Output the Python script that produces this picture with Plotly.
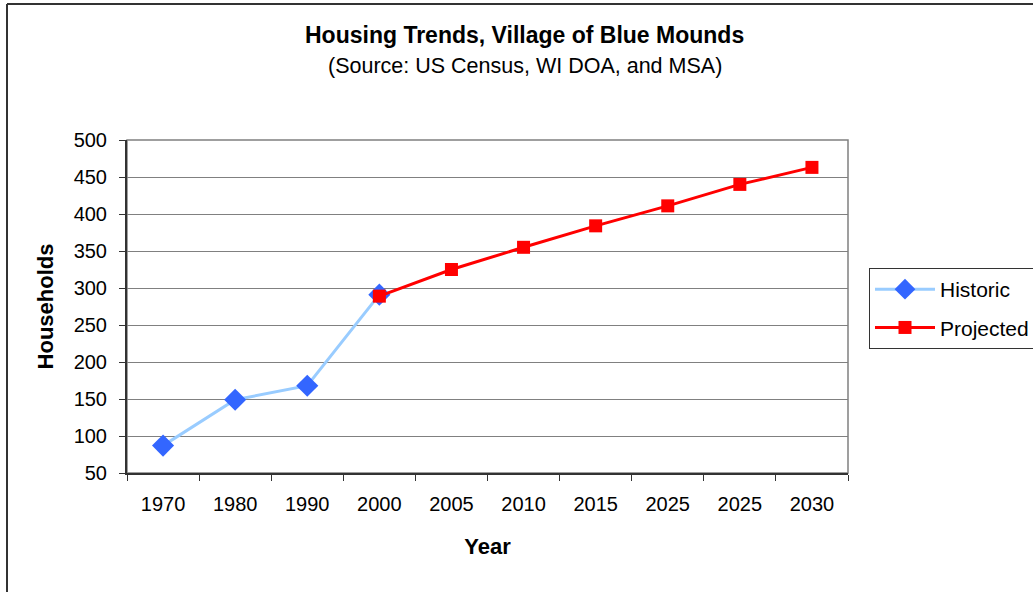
import plotly.graph_objects as go

year_labels = ["1970", "1980", "1990", "2000", "2005", "2010", "2015", "2025", "2025", "2030"]
historic_idx = [0, 1, 2, 3]
historic_vals = [87, 149, 168, 291]
projected_idx = [3, 4, 5, 6, 7, 8, 9]
projected_vals = [289, 325, 355, 384, 411, 440, 463]
y_ticks = [50, 100, 150, 200, 250, 300, 350, 400, 450, 500]

FONT = "Liberation Sans, Arial, sans-serif"

fig = go.Figure()
fig.add_trace(go.Scatter(
    x=historic_idx, y=historic_vals, name="Historic", mode="lines+markers",
    line=dict(color="#99CCFF", width=3),
    marker=dict(symbol="diamond", size=17, color="#3366FF"),
    legendgroup="h",
))
fig.add_trace(go.Scatter(
    x=projected_idx, y=projected_vals, name="Projected", mode="lines+markers",
    line=dict(color="#FF0000", width=3),
    marker=dict(symbol="square", size=13, color="#FF0000"),
    legendgroup="p",
))

L, R, T, B = 127, 848, 140, 473
W, H = 1033, 592
pw, ph = R - L, B - T

def px(x):
    return (x - L) / pw

def py(y):
    return (B - y) / ph

fig.update_layout(
    width=W, height=H,
    margin=dict(l=L, r=W - R, t=T, b=H - B, pad=0, autoexpand=False),
    paper_bgcolor="white", plot_bgcolor="white",
    font=dict(family=FONT, size=20, color="black"),
    showlegend=True,
    legend=dict(
        x=px(869), y=py(268), xanchor="left", yanchor="top",
        bordercolor="#333333", borderwidth=1, bgcolor="white",
        font=dict(size=21), tracegroupgap=8,
        itemwidth=60,
    ),
    xaxis=dict(
        range=[-0.5, 9.5], tickvals=list(range(len(year_labels))), ticktext=year_labels,
        showgrid=False, zeroline=False, ticks="", ticklen=0,
        ticklabelstandoff=12,
        showline=True, linecolor="#333333", linewidth=2, mirror=False,
        minor=dict(tick0=-0.5, dtick=1, ticks="outside", ticklen=6, tickcolor="#333333", tickwidth=1, showgrid=False),
        tickfont=dict(size=20), title=dict(text="<b>Year</b>", font=dict(size=22), standoff=25),
        fixedrange=True,
    ),
    yaxis=dict(
        range=[50, 500], tickvals=y_ticks, showgrid=True, gridcolor="#808080", gridwidth=1,
        zeroline=False, ticks="outside", ticklen=6, tickcolor="#333333",
        ticklabelstandoff=8,
        showline=True, linecolor="#333333", linewidth=2,
        tickfont=dict(size=20), title=dict(text="<b>Households</b>", font=dict(size=22), standoff=14),
        fixedrange=True,
    ),
    shapes=[
        dict(type="rect", xref="paper", yref="paper", x0=0, x1=1, y0=0, y1=1,
             line=dict(color="#808080", width=1.5), layer="below"),
        dict(type="line", xref="paper", yref="paper", x0=px(7), x1=px(7), y0=py(4), y1=py(600),
             line=dict(color="#333333", width=2)),
        dict(type="line", xref="paper", yref="paper", x0=px(7), x1=px(1040), y0=py(4), y1=py(4),
             line=dict(color="#333333", width=2)),
    ],
    annotations=[
        dict(text="<b>Housing Trends, Village of Blue Mounds</b>", xref="paper", yref="paper",
             x=px(524), y=py(35), xanchor="center", yanchor="middle", showarrow=False,
             font=dict(size=23)),
        dict(text="(Source: US Census, WI DOA, and MSA)", xref="paper", yref="paper",
             x=px(525), y=py(66), xanchor="center", yanchor="middle", showarrow=False,
             font=dict(size=21.5)),
    ],
)

fig.write_html("out.html")
